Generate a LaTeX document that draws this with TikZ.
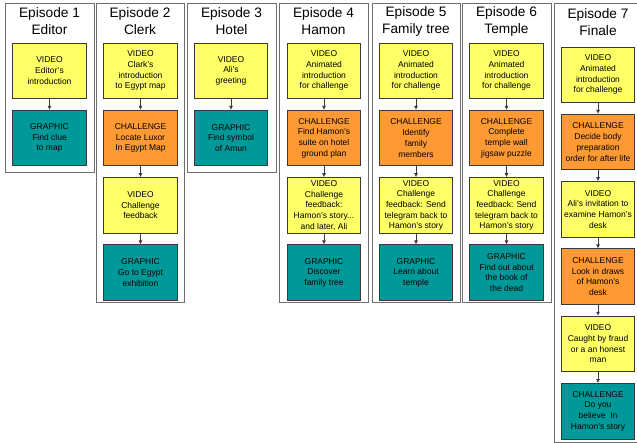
\documentclass[tikz,border=0pt]{standalone}
\usepackage{fontspec}
\setmainfont{Liberation Sans}
\usepackage{xcolor}
\usetikzlibrary{arrows.meta, positioning}

\definecolor{vidyellow}{HTML}{FFFF66}
\definecolor{chalorange}{HTML}{FF9933}
\definecolor{graphteal}{HTML}{009999}
\definecolor{boxline}{HTML}{3A3A3A}
\definecolor{panelline}{HTML}{6E6E6E}

\tikzset{
    box/.style={draw=boxline, line width=0.8pt, minimum width=73.5pt, minimum height=55.5pt,
        inner sep=0pt, align=center, font=\fontsize{8.5}{10.7}\selectfont},
    video/.style={box, fill=vidyellow},
    challenge/.style={box, fill=chalorange},
    graphic/.style={box, fill=graphteal},
    title/.style={align=center, inner sep=0pt, font=\fontsize{13.7}{17}\selectfont},
    panel/.style={draw=panelline, line width=0.9pt},
    flow/.style={draw=boxline, line width=0.7pt, -{Latex[length=4pt,width=4pt]}}
}

\begin{document}
\begin{tikzpicture}[x=1pt, y=-1pt, node distance=11pt]
                        \useasboundingbox (0,0) rectangle (637,443);

                        \draw[panel] (5, 3) rectangle (94, 172);
                        \draw[panel] (96, 3) rectangle (184, 302);
                        \draw[panel] (187, 3) rectangle (276, 172);
                        \draw[panel] (279, 3) rectangle (368, 302);
                        \draw[panel] (372, 3) rectangle (460, 302);
                        \draw[panel] (462, 3) rectangle (551, 302);
                        \draw[panel] (554, 3) rectangle (645, 442.5);

                        \node[title] (t1) at (49.5, 21) {Episode 1\\Editor};
                        \node[title] (t2) at (140, 21) {Episode 2\\Clerk};
                        \node[title] (t3) at (231.5, 21) {Episode 3\\Hotel};
                        \node[title] (t4) at (323.5, 21) {Episode 4\\Hamon};
                        \node[title] (t5) at (416, 21) {Episode 5\\Family tree};
                        \node[title] (t6) at (506.5, 21) {Episode 6\\Temple};
                        \node[title] (t7) at (598, 22) {Episode 7\\Finale};

                        \node[video] (e1a) at (49.5, 70.75) {VIDEO\\Editor's\\introduction};
                        \node[graphic, below=of e1a] (e1b) {GRAPHIC\\Find clue\\to map};

                        \node[video] (e2a) at (140.5, 70.75) {VIDEO\\Clark's\\introduction\\to Egypt map};
                        \node[challenge, below=of e2a] (e2b) {CHALLENGE\\Locate Luxor\\In Egypt Map};
                        \node[video, below=of e2b] (e2c) {VIDEO\\Challenge\\feedback};
                        \node[graphic, below=of e2c] (e2d) {GRAPHIC\\Go to Egypt\\exhibition};

                        \node[video] (e3a) at (231, 70.75) {VIDEO\\Ali's\\greeting};
                        \node[graphic, below=of e3a] (e3b) {GRAPHIC\\Find symbol\\of Amun};

                        \node[video] (e4a) at (324, 70.75) {VIDEO\\Animated\\introduction\\for challenge};
                        \node[challenge, below=of e4a] (e4b) {CHALLENGE\\Find Hamon's\\suite on hotel\\ground plan};
                        \node[video, below=of e4b] (e4c) {VIDEO\\Challenge\\feedback:\\Hamon's story...\\and later, Ali};
                        \node[graphic, below=of e4c] (e4d) {GRAPHIC\\Discover\\family tree};

                        \node[video] (e5a) at (416, 70.75) {VIDEO\\Animated\\introduction\\for challenge};
                        \node[challenge, below=of e5a] (e5b) {CHALLENGE\\Identify\\family\\members};
                        \node[video, below=of e5b] (e5c) {VIDEO\\Challenge\\feedback: Send\\telegram back to\\Hamon's story};
                        \node[graphic, below=of e5c] (e5d) {GRAPHIC\\Learn about\\temple};

                        \node[video] (e6a) at (506.5, 70.75) {VIDEO\\Animated\\introduction\\for challenge};
                        \node[challenge, below=of e6a] (e6b) {CHALLENGE\\Complete\\temple wall\\jigsaw puzzle};
                        \node[video, below=of e6b] (e6c) {VIDEO\\Challenge\\feedback: Send\\telegram back to\\Hamon's story};
                        \node[graphic, below=of e6c] (e6d) {GRAPHIC\\Find out about\\the book of\\the dead};

                        \node[video] (e7a) at (598, 74.75) {VIDEO\\Animated\\introduction\\for challenge};
                        \node[challenge, below=of e7a] (e7b) {CHALLENGE\\Decide body\\preparation\\order for after life};
                        \node[video, below=of e7b] (e7c) {VIDEO\\Ali's invitation to\\examine Hamon's\\desk};
                        \node[challenge, below=of e7c] (e7d) {CHALLENGE\\Look in draws\\of Hamon's\\desk};
                        \node[video, below=of e7d] (e7e) {VIDEO\\Caught by fraud\\or a an honest\\man};
                        \node[graphic, below=of e7e] (e7f) {CHALLENGE\\Do you\\believe\ \ In\\Hamon's story};

                        \draw[flow] (e1a) -- (e1b);
                        \draw[flow] (e2a) -- (e2b);
                        \draw[flow] (e2b) -- (e2c);
                        \draw[flow] (e2c) -- (e2d);
                        \draw[flow] (e3a) -- (e3b);
                        \draw[flow] (e4a) -- (e4b);
                        \draw[flow] (e4b) -- (e4c);
                        \draw[flow] (e4c) -- (e4d);
                        \draw[flow] (e5a) -- (e5b);
                        \draw[flow] (e5b) -- (e5c);
                        \draw[flow] (e5c) -- (e5d);
                        \draw[flow] (e6a) -- (e6b);
                        \draw[flow] (e6b) -- (e6c);
                        \draw[flow] (e6c) -- (e6d);
                        \draw[flow] (e7a) -- (e7b);
                        \draw[flow] (e7b) -- (e7c);
                        \draw[flow] (e7c) -- (e7d);
                        \draw[flow] (e7d) -- (e7e);
                        \draw[flow] (e7e) -- (e7f);
                    \end{tikzpicture}
\end{document}
